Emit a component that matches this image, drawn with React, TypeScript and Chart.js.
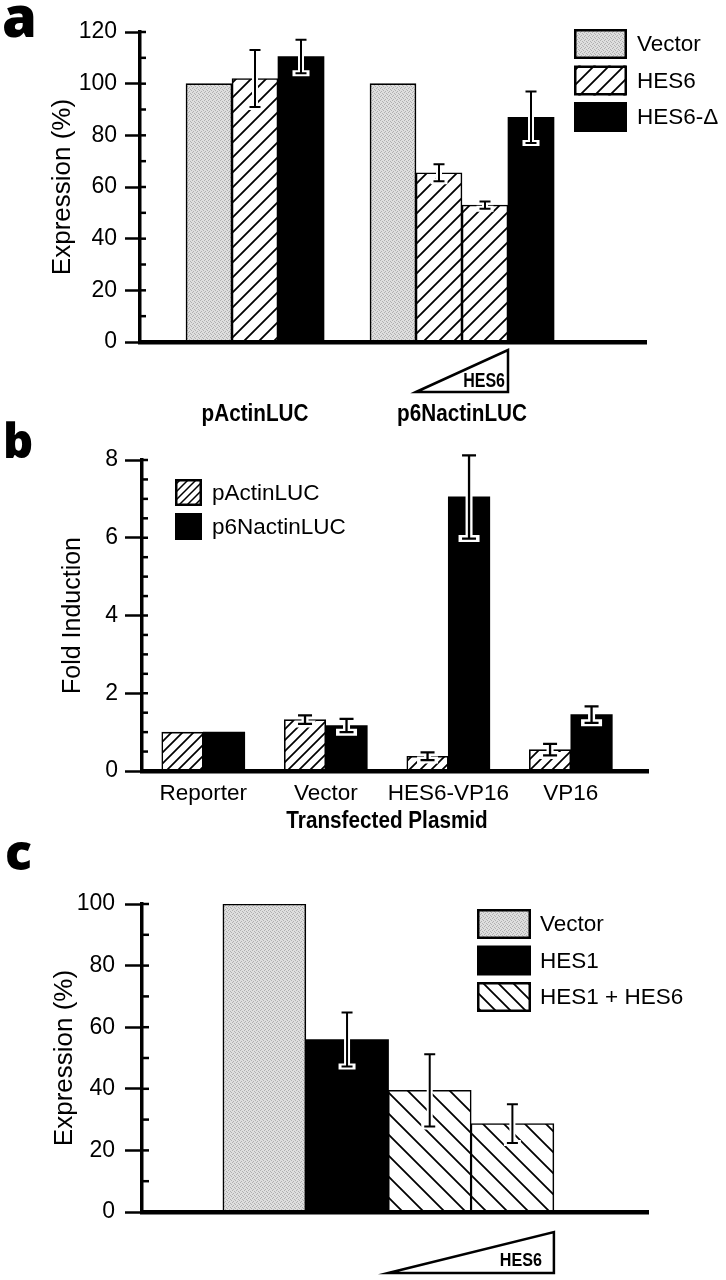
import React, { useEffect, useRef } from 'react';
import { Chart, registerables } from 'chart.js';

Chart.register(...registerables);

const FONT = '"Liberation Sans", Arial, Helvetica, sans-serif';
const LETTER_FONT = '"Open Sans", "DejaVu Sans", sans-serif';
Chart.defaults.font.family = FONT;
Chart.defaults.color = '#000';

// ---------------- Panel a ----------------
const groupsA = ['pActinLUC', 'p6NactinLUC'];
const legendA = ['Vector', 'HES6', 'HES6-\u0394'];
const vectorA = [100, 100];
const hes6A = [[102], [65.5, 53]];
const hes6ErrA = [[11], [3.3, 1.4]];
const hes6DeltaA = [110.5, 87];
const hes6DeltaErrA = [6.5, 10];
const yTicksA = [0, 20, 40, 60, 80, 100, 120];

// ---------------- Panel b ----------------
const plasmidsB = ['Reporter', 'Vector', 'HES6-VP16', 'VP16'];
const reportersB = ['pActinLUC', 'p6NactinLUC'];
const pActinB = [1.0, 1.32, 0.38, 0.55];
const pActinErrB = [0, 0.11, 0.1, 0.15];
const p6NactinB = [1.0, 1.17, 7.05, 1.45];
const p6NactinErrB = [0, 0.17, 1.07, 0.21];
const yTicksB = [0, 2, 4, 6, 8];

// ---------------- Panel c ----------------
const legendC = ['Vector', 'HES1', 'HES1 + HES6'];
const vectorC = [100];
const hes1C = [56];
const hes1ErrC = [8.8];
const hes1Hes6C = [39.5, 28.7];
const hes1Hes6ErrC = [11.7, 6.3];
const yTicksC = [0, 20, 40, 60, 80, 100];

// ---------------- helpers ----------------
function makeStipple(): any {
  const c = document.createElement('canvas');
  c.width = 4; c.height = 4;
  const g = c.getContext('2d');
  if (!g) return '#d2d2d2';
  g.fillStyle = '#dedede'; g.fillRect(0, 0, 4, 4);
  g.fillStyle = '#b0b0b0';
  for (const [x, y] of [[0, 0], [2, 1], [1, 3], [3, 2]]) g.fillRect(x, y, 1, 1);
  return g.createPattern(c, 'repeat') || '#d2d2d2';
}

function makeHatch(size: number, dir: 1 | -1, lw: number): any {
  const c = document.createElement('canvas');
  c.width = size; c.height = size;
  const g = c.getContext('2d');
  if (!g) return '#888';
  g.fillStyle = '#fff'; g.fillRect(0, 0, size, size);
  g.strokeStyle = '#000'; g.lineWidth = lw; g.lineCap = 'square';
  g.beginPath();
  if (dir === 1) {
    g.moveTo(0, size); g.lineTo(size, 0);
    g.moveTo(-size / 2, size / 2); g.lineTo(size / 2, -size / 2);
    g.moveTo(size / 2, size * 1.5); g.lineTo(size * 1.5, size / 2);
  } else {
    g.moveTo(0, 0); g.lineTo(size, size);
    g.moveTo(size / 2, -size / 2); g.lineTo(size * 1.5, size / 2);
    g.moveTo(-size / 2, size / 2); g.lineTo(size / 2, size * 1.5);
  }
  g.stroke();
  return g.createPattern(c, 'repeat') || '#888';
}

const errorBars = {
  id: 'errorBars',
  afterDatasetsDraw(chart: any, _args: any, opts: any) {
    const ctx = chart.ctx;
    const y = chart.scales.y;
    const cap = opts.cap ?? 6;
    const white = opts.white ?? 6;
    const black = opts.black ?? 2;
    chart.data.datasets.forEach((ds: any, di: number) => {
      if (!ds.errors) return;
      const meta = chart.getDatasetMeta(di);
      meta.data.forEach((el: any, i: number) => {
        const raw = ds.data[i];
        const v = raw == null ? null : typeof raw === 'object' ? raw.y : raw;
        const e = ds.errors[i];
        if (v == null || !e) return;
        const x = el.x;
        const top = y.getPixelForValue(v + e);
        const bot = y.getPixelForValue(v - e);
        const path = () => {
          ctx.beginPath();
          ctx.moveTo(x, top); ctx.lineTo(x, bot);
          ctx.moveTo(x - cap, top); ctx.lineTo(x + cap, top);
          ctx.moveTo(x - cap, bot); ctx.lineTo(x + cap, bot);
        };
        ctx.save();
        ctx.strokeStyle = '#fff'; ctx.lineWidth = white; ctx.lineCap = 'square'; path(); ctx.stroke();
        ctx.strokeStyle = '#000'; ctx.lineWidth = black; ctx.lineCap = 'butt'; path(); ctx.stroke();
        ctx.restore();
      });
    });
  },
};

function drawMinorTicks(chart: any, minorStep: number, outLen: number) {
  const y = chart.scales.y;
  const ctx = chart.ctx;
  const x0 = chart.chartArea.left;
  ctx.save();
  ctx.strokeStyle = '#000';
  ctx.lineWidth = 2.5;
  for (let v = y.min; v <= y.max + 1e-9; v += minorStep) {
    const py = y.getPixelForValue(v);
    ctx.beginPath(); ctx.moveTo(x0, py); ctx.lineTo(x0 + outLen, py); ctx.stroke();
  }
  ctx.restore();
}

function condensedText(ctx: any, text: string, x: number, y: number, size: number, sx: number, align: string) {
  ctx.save();
  ctx.font = `bold ${size}px ${FONT}`;
  ctx.textBaseline = 'alphabetic';
  ctx.textAlign = align;
  ctx.fillStyle = '#000';
  ctx.translate(x, y);
  ctx.scale(sx, 1);
  ctx.fillText(text, 0, 0);
  ctx.restore();
}

function drawWedge(ctx: any, left: number, right: number, top: number, bottom: number, label: string,
  inset: number, lift: number, size: number, sx: number) {
  ctx.save();
  ctx.beginPath();
  ctx.moveTo(left, bottom); ctx.lineTo(right, top); ctx.lineTo(right, bottom); ctx.closePath();
  ctx.fillStyle = '#fff'; ctx.fill();
  ctx.strokeStyle = '#000'; ctx.lineWidth = 2.5; ctx.lineJoin = 'miter'; ctx.stroke();
  ctx.restore();
  condensedText(ctx, label, right - inset, bottom - lift, size, sx, 'right');
}

function drawLegend(ctx: any, items: { label: string; fill: any; stroke: boolean }[],
  x: number, y: number, w: number, h: number, pitch: number, textX: number, size: number) {
  items.forEach((it, i) => {
    const yy = y + i * pitch;
    ctx.save();
    ctx.fillStyle = it.fill; ctx.fillRect(x, yy, w, h);
    if (it.stroke) {
      ctx.strokeStyle = '#000'; ctx.lineWidth = 2.5;
      ctx.strokeRect(x + 1.25, yy + 1.25, w - 2.5, h - 2.5);
    }
    ctx.fillStyle = '#000';
    ctx.font = `${size}px ${FONT}`;
    ctx.textBaseline = 'middle';
    ctx.textAlign = 'left';
    ctx.fillText(it.label, textX, yy + h / 2 + 1);
    ctx.restore();
  });
}

function drawLetter(ctx: any, letter: string, x: number, y: number, size: number) {
  ctx.save();
  ctx.font = `800 ${size}px ${LETTER_FONT}`;
  ctx.fillStyle = '#000';
  ctx.textBaseline = 'alphabetic';
  ctx.textAlign = 'left';
  ctx.fillText(letter, x, y);
  ctx.restore();
}

function yAxis(ticks: number[], title: string, titleSize: number, titlePad: number, tickLen: number,
  tickPad: number, width: number) {
  return {
    type: 'linear',
    min: ticks[0],
    max: ticks[ticks.length - 1],
    ticks: { stepSize: ticks[1] - ticks[0], color: '#000', font: { family: FONT, size: 23 }, padding: tickPad },
    grid: { display: true, drawOnChartArea: false, drawTicks: true, tickLength: tickLen, tickWidth: 2.5, tickColor: '#000' },
    border: { display: true, color: '#000', width: 3.5, z: 1 },
    title: { display: true, text: title, color: '#000', font: { family: FONT, size: titleSize }, padding: { top: titlePad, bottom: 0 } },
    afterFit: (s: any) => { s.width = width; },
  };
}

// ---------------- Panel a builder ----------------
function buildSlotsA() {
  const labels: string[] = [];
  const vector: (number | null)[] = [];
  const hes6: (number | null)[] = [];
  const hes6Err: (number | null)[] = [];
  const delta: (number | null)[] = [];
  const deltaErr: (number | null)[] = [];
  const groups: { name: string; first: number; last: number; doseFirst: number; doseLast: number }[] = [];
  const push = (label: string, v: number | null, h: number | null, he: number | null, d: number | null, de: number | null) => {
    labels.push(label); vector.push(v); hes6.push(h); hes6Err.push(he); delta.push(d); deltaErr.push(de);
    return labels.length - 1;
  };
  push('start', null, null, null, null, null);
  groupsA.forEach((name, gi) => {
    const first = push(`${name} ${legendA[0]}`, vectorA[gi], null, null, null, null);
    let doseFirst = -1; let doseLast = -1;
    hes6A[gi].forEach((v, k) => {
      const idx = push(`${name} ${legendA[1]} ${k + 1}`, null, v, hes6ErrA[gi][k], null, null);
      if (doseFirst < 0) doseFirst = idx;
      doseLast = idx;
    });
    const last = push(`${name} ${legendA[2]}`, null, null, null, hes6DeltaA[gi], hes6DeltaErrA[gi]);
    groups.push({ name, first, last, doseFirst, doseLast });
    push(`gap ${gi}`, null, null, null, null, null);
  });
  push('end', null, null, null, null, null);
  return { labels, vector, hes6, hes6Err, delta, deltaErr, groups };
}

function buildA(canvas: HTMLCanvasElement) {
  const s = buildSlotsA();
  const stipple = makeStipple();
  const hatch = makeHatch(15, 1, 1.8);
  const decor = {
    id: 'decorA',
    afterDraw(chart: any) {
      const ctx = chart.ctx;
      const x = chart.scales.x;
      const area = chart.chartArea;
      drawMinorTicks(chart, (yTicksA[1] - yTicksA[0]) / 2, 6);
      s.groups.forEach((g) => {
        const cx = (x.getPixelForValue(g.first) + x.getPixelForValue(g.last)) / 2;
        condensedText(ctx, g.name, cx, area.bottom + 79, 23, 0.9, 'center');
        if (g.doseLast > g.doseFirst) {
          const meta = chart.getDatasetMeta(1);
          const a = meta.data[g.doseFirst];
          const b = meta.data[g.doseLast];
          drawWedge(ctx, a.x - a.width / 2, b.x + b.width / 2, area.bottom + 8, area.bottom + 50, legendA[1], 3, 5, 20, 0.8);
        }
      });
      drawLegend(ctx, [
        { label: legendA[0], fill: stipple, stroke: true },
        { label: legendA[1], fill: hatch, stroke: true },
        { label: legendA[2], fill: '#000', stroke: false },
      ], 574, 29, 53, 30, 36.5, 637, 22.5);
      drawLetter(ctx, 'a', 2, 37, 56);
    },
  };
  return new Chart(canvas, {
    type: 'bar',
    data: {
      labels: s.labels,
      datasets: [
        { label: legendA[0], data: s.vector, backgroundColor: stipple, borderColor: '#000', borderWidth: 1.6 } as any,
        { label: legendA[1], data: s.hes6, errors: s.hes6Err, backgroundColor: hatch, borderColor: '#000', borderWidth: 1.6 } as any,
        { label: legendA[2], data: s.delta, errors: s.deltaErr, backgroundColor: '#000', borderWidth: 0 } as any,
      ],
    },
    options: {
      responsive: false,
      animation: false,
      layout: { padding: { top: 32, right: 80, bottom: 88, left: 0 } },
      datasets: { bar: { grouped: false, categoryPercentage: 1, barPercentage: 1, borderSkipped: 'start' } } as any,
      plugins: { legend: { display: false }, tooltip: { enabled: false }, errorBars: { cap: 5.5, white: 6, black: 2 } } as any,
      scales: {
        x: {
          type: 'category',
          grid: { display: false, drawTicks: false },
          ticks: { display: false },
          border: { display: true, color: '#000', width: 4.5, z: 1 },
          afterFit: (sc: any) => { sc.height = 10; },
        },
        y: yAxis(yTicksA, 'Expression (%)', 26, 47, 15, 8, 140),
      } as any,
    },
    plugins: [errorBars, decor],
  } as any);
}

// ---------------- Panel b builder ----------------
function buildB(canvas: HTMLCanvasElement) {
  const hatch = makeHatch(11, 1, 1.7);
  const hatchLegend = makeHatch(8, 1, 1.5);
  const decor = {
    id: 'decorB',
    afterDraw(chart: any) {
      const ctx = chart.ctx;
      const x = chart.scales.x;
      const area = chart.chartArea;
      drawMinorTicks(chart, (yTicksB[1] - yTicksB[0]) / 4, 6);
      const cx = plasmidsB.reduce((acc, _p, i) => acc + x.getPixelForValue(i), 0) / plasmidsB.length;
      condensedText(ctx, 'Transfected Plasmid', cx, area.bottom + 57, 23, 0.9, 'center');
      drawLegend(ctx, [
        { label: reportersB[0], fill: hatchLegend, stroke: true },
        { label: reportersB[1], fill: '#000', stroke: false },
      ], 175, 59, 27, 27, 34, 212, 22.5);
      drawLetter(ctx, 'b', 3, 38, 47);
    },
  };
  return new Chart(canvas, {
    type: 'bar',
    data: {
      datasets: [
        { label: reportersB[0], data: pActinB.map((v, i) => ({ x: i, y: v })), errors: pActinErrB, backgroundColor: hatch, borderColor: '#000', borderWidth: 1.6 } as any,
        { label: reportersB[1], data: p6NactinB.map((v, i) => ({ x: i, y: v })), errors: p6NactinErrB, backgroundColor: '#000', borderWidth: 0 } as any,
      ],
    },
    options: {
      responsive: false,
      animation: false,
      layout: { padding: { top: 40, right: 78, bottom: 29, left: 0 } },
      datasets: { bar: { barThickness: 41.5, borderSkipped: 'start' } } as any,
      plugins: { legend: { display: false }, tooltip: { enabled: false }, errorBars: { cap: 7, white: 7, black: 2.3 } } as any,
      scales: {
        x: {
          type: 'linear',
          offset: false,
          bounds: 'data',
          min: -0.5,
          max: 3.63,
          grid: { display: false, drawTicks: false, offset: false },
          ticks: {
            autoSkip: false, maxRotation: 0, color: '#000', padding: 9.5,
            font: { family: FONT, size: 22.5 },
            callback: (v: any) => plasmidsB[v] ?? '',
          },
          afterBuildTicks: (sc: any) => { sc.ticks = plasmidsB.map((_p, i) => ({ value: i })); },
          border: { display: true, color: '#000', width: 4.5, z: 1 },
          afterFit: (sc: any) => { sc.height = 40; },
        },
        y: yAxis(yTicksB, 'Fold Induction', 25, 58, 17, 7, 142),
      } as any,
    },
    plugins: [errorBars, decor],
  } as any);
}

// ---------------- Panel c builder ----------------
function buildC(canvas: HTMLCanvasElement) {
  const stipple = makeStipple();
  const hatch = makeHatch(21, -1, 1.8);
  const hatchLegend = makeHatch(15, -1, 1.8);
  let pos = 0;
  const vecData = vectorC.map((v) => ({ x: pos++, y: v }));
  const hes1Data = hes1C.map((v) => ({ x: pos++, y: v }));
  const comboData = hes1Hes6C.map((v) => ({ x: pos++, y: v }));
  const decor = {
    id: 'decorC',
    afterDraw(chart: any) {
      const ctx = chart.ctx;
      const area = chart.chartArea;
      drawMinorTicks(chart, (yTicksC[1] - yTicksC[0]) / 2, 7);
      const meta = chart.getDatasetMeta(2);
      const a = meta.data[0];
      const b = meta.data[meta.data.length - 1];
      drawWedge(ctx, a.x - a.width / 2, b.x + b.width / 2, area.bottom + 20, area.bottom + 61, 'HES6', 12, 7, 19, 0.85);
      drawLegend(ctx, [
        { label: legendC[0], fill: stipple, stroke: true },
        { label: legendC[1], fill: '#000', stroke: false },
        { label: legendC[2], fill: hatchLegend, stroke: true },
      ], 477, 79, 54, 30, 36.5, 540, 22.5);
      drawLetter(ctx, 'c', 5, 40, 50);
    },
  };
  return new Chart(canvas, {
    type: 'bar',
    data: {
      datasets: [
        { label: legendC[0], data: vecData, backgroundColor: stipple, borderColor: '#000', borderWidth: 1.6 } as any,
        { label: legendC[1], data: hes1Data, errors: hes1ErrC, backgroundColor: '#000', borderWidth: 0 } as any,
        { label: legendC[2], data: comboData, errors: hes1Hes6ErrC, backgroundColor: hatch, borderColor: '#000', borderWidth: 1.6 } as any,
      ],
    },
    options: {
      responsive: false,
      animation: false,
      layout: { padding: { top: 74, right: 78, bottom: 58, left: 0 } },
      datasets: { bar: { grouped: false, barThickness: 83, borderSkipped: 'start' } } as any,
      plugins: { legend: { display: false }, tooltip: { enabled: false }, errorBars: { cap: 5.5, white: 6, black: 2 } } as any,
      scales: {
        x: {
          type: 'linear',
          offset: false,
          bounds: 'data',
          min: -1.48,
          max: 4.64,
          grid: { display: false, drawTicks: false, offset: false },
          ticks: { display: false },
          border: { display: true, color: '#000', width: 4.5, z: 1 },
          afterFit: (sc: any) => { sc.height = 10; },
        },
        y: yAxis(yTicksC, 'Expression (%)', 26, 49, 17, 10, 142),
      } as any,
    },
    plugins: [errorBars, decor],
  } as any);
}

function ChartCanvas({ top, height, build }: { top: number; height: number; build: (c: HTMLCanvasElement) => Chart }) {
  const ref = useRef<HTMLCanvasElement>(null);
  useEffect(() => {
    if (!ref.current) return;
    const chart = build(ref.current);
    return () => chart.destroy();
  }, [build]);
  return (
    <canvas
      ref={ref}
      width={726}
      height={height}
      style={{ position: 'absolute', left: 0, top, width: 726, height, display: 'block' }}
    />
  );
}

export default function App() {
  return (
    <div style={{ position: 'absolute', left: 0, top: 0, width: 726, height: 1280, background: '#fff', overflow: 'hidden' }}>
      <ChartCanvas top={0} height={440} build={buildA} />
      <ChartCanvas top={420} height={420} build={buildB} />
      <ChartCanvas top={830} height={450} build={buildC} />
    </div>
  );
}
